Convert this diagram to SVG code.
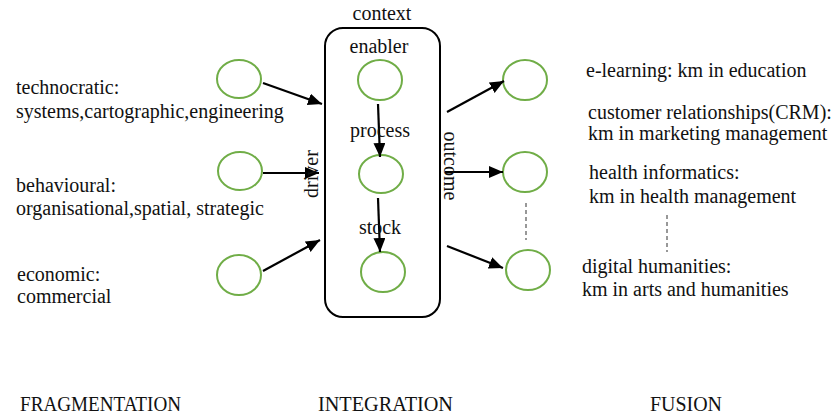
<svg xmlns="http://www.w3.org/2000/svg" width="835" height="417" viewBox="0 0 835 417">
<defs>
<style>
.n{fill:none;stroke:#70ad47;stroke-width:2}
.t{font-family:"Liberation Serif","Times New Roman",serif;font-size:20px;fill:#111}
.c{stroke:#000;stroke-width:2.2;fill:none;marker-end:url(#ah)}
.d{stroke:#777;stroke-width:1.5;stroke-dasharray:4 3;fill:none}
.m{text-anchor:middle}
</style>
<marker id="ah" markerUnits="userSpaceOnUse" markerWidth="16" markerHeight="14" refX="14" refY="6" orient="auto">
<path d="M0,0 L14,6 L0,12 z" fill="#000"/>
</marker>
</defs>
<rect x="325" y="28" width="115" height="289" rx="18" fill="none" stroke="#000" stroke-width="2"/>
<g id="left1"><ellipse class="n" cx="239" cy="79" rx="22" ry="19"/></g>
<g id="left2"><ellipse class="n" cx="240" cy="171" rx="22" ry="19"/></g>
<g id="left3"><ellipse class="n" cx="239" cy="275" rx="22" ry="20"/></g>
<g id="enabler"><ellipse class="n" cx="380" cy="80" rx="22" ry="20"/></g>
<g id="process"><ellipse class="n" cx="381" cy="174" rx="22" ry="19"/></g>
<g id="stock"><ellipse class="n" cx="383" cy="272" rx="22" ry="20"/></g>
<g id="right1"><ellipse class="n" cx="525" cy="80" rx="22" ry="20"/></g>
<g id="right2"><ellipse class="n" cx="525" cy="172" rx="22" ry="20"/></g>
<g id="right3"><ellipse class="n" cx="528" cy="270" rx="22" ry="20"/></g>
<g id="connectors">
<line class="c" x1="263" y1="83" x2="322" y2="104"/>
<line class="c" x1="263" y1="173" x2="319" y2="173"/>
<line class="c" x1="263" y1="271" x2="320" y2="240"/>
<line class="c" x1="378" y1="104" x2="380" y2="157"/>
<line class="c" x1="378" y1="198" x2="380" y2="252"/>
<line class="c" x1="447" y1="112" x2="504" y2="81"/>
<line class="c" x1="445" y1="172" x2="503" y2="172"/>
<line class="c" x1="447" y1="246" x2="503" y2="268"/>
<line class="d" x1="526" y1="203" x2="526" y2="240"/>
<line class="d" x1="667" y1="215" x2="667" y2="252"/>
</g>
<g id="labels">
<text class="t m" x="382" y="20">context</text>
<text class="t m" x="379" y="53">enabler</text>
<text class="t m" x="380" y="137">process</text>
<text class="t m" x="380" y="234">stock</text>
<text class="t m" transform="translate(318,174) rotate(-90)">driver</text>
<text class="t m" transform="translate(444,166) rotate(90)">outcome</text>
<text class="t" x="16" y="94">technocratic:</text>
<text class="t" x="16" y="118">systems,cartographic,engineering</text>
<text class="t" x="16" y="192">behavioural:</text>
<text class="t" x="16" y="215">organisational,spatial, strategic</text>
<text class="t" x="17" y="281">economic:</text>
<text class="t" x="17" y="303">commercial</text>
<text class="t" x="586" y="77">e-learning: km in education</text>
<text class="t" x="588" y="119">customer relationships(CRM):</text>
<text class="t" x="588" y="140">km in marketing management</text>
<text class="t" x="589" y="179">health informatics:</text>
<text class="t" x="589" y="203">km in health management</text>
<text class="t" x="582" y="273">digital humanities:</text>
<text class="t" x="582" y="296">km in arts and humanities</text>
<text class="t" x="20" y="411" textLength="161" lengthAdjust="spacingAndGlyphs">FRAGMENTATION</text>
<text class="t" x="318" y="411" textLength="135" lengthAdjust="spacingAndGlyphs">INTEGRATION</text>
<text class="t" x="650" y="411" textLength="72" lengthAdjust="spacingAndGlyphs">FUSION</text>
</g>
</svg>
